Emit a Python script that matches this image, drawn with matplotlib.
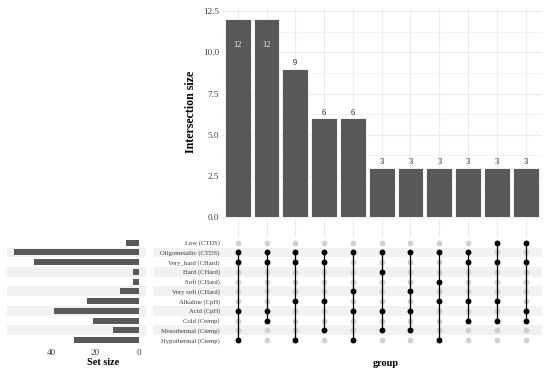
import matplotlib
matplotlib.use("Agg")
import matplotlib.pyplot as plt
from matplotlib.ticker import MultipleLocator
import numpy as np

plt.rcParams['font.family'] = ['Liberation Serif', 'DejaVu Serif']

# ---------------- data ----------------
sets = ["Low (CTDS)", "Oligometallic (CTDS)", "Very_hard (CHard)", "Hard (CHard)",
        "Soft (CHard)", "Very soft (CHard)", "Alkaline (CpH)", "Acid (CpH)",
        "Cold (Ctemp)", "Mesothermal (Ctemp)", "Hypothermal (Ctemp)"]

intersections = [
    ["Oligometallic (CTDS)", "Very_hard (CHard)", "Acid (CpH)", "Hypothermal (Ctemp)"],
    ["Oligometallic (CTDS)", "Very_hard (CHard)", "Acid (CpH)", "Cold (Ctemp)"],
    ["Oligometallic (CTDS)", "Very_hard (CHard)", "Alkaline (CpH)", "Hypothermal (Ctemp)"],
    ["Oligometallic (CTDS)", "Very_hard (CHard)", "Alkaline (CpH)", "Mesothermal (Ctemp)"],
    ["Oligometallic (CTDS)", "Very soft (CHard)", "Acid (CpH)", "Hypothermal (Ctemp)"],
    ["Oligometallic (CTDS)", "Hard (CHard)", "Acid (CpH)", "Mesothermal (Ctemp)"],
    ["Oligometallic (CTDS)", "Very soft (CHard)", "Acid (CpH)", "Mesothermal (Ctemp)"],
    ["Oligometallic (CTDS)", "Soft (CHard)", "Alkaline (CpH)", "Hypothermal (Ctemp)"],
    ["Oligometallic (CTDS)", "Very_hard (CHard)", "Alkaline (CpH)", "Cold (Ctemp)"],
    ["Low (CTDS)", "Very_hard (CHard)", "Alkaline (CpH)", "Cold (Ctemp)"],
    ["Low (CTDS)", "Very_hard (CHard)", "Acid (CpH)", "Cold (Ctemp)"],
]
intersection_sizes = [12, 12, 9, 6, 6, 3, 3, 3, 3, 3, 3]

set_sizes = [sum(s for inter, s in zip(intersections, intersection_sizes) if name in inter)
             for name in sets]

# ---------------- layout (pixels) ----------------
W, H = 550, 373
fig = plt.figure(figsize=(W / 100, H / 100), dpi=100)

def rect(x0, y0, x1, y1):
    return [x0 / W, 1 - y1 / H, (x1 - x0) / W, (y1 - y0) / H]

col0, colstep = 237.7, 28.8
row0, rowstep = 242.7, 9.73
ax_x0, ax_x1 = 222, 542
xl = ((ax_x0 - col0) / colstep, (ax_x1 - col0) / colstep)

m_top, m_bot = row0 - 0.6 * rowstep, row0 + 10.6 * rowstep

# bars axes
zero_px, px_per_unit = 217.3, 16.5
b_top, b_bot = 9.4, m_top
axb = fig.add_axes(rect(ax_x0, b_top, ax_x1, b_bot))
# matrix axes
axm = fig.add_axes(rect(ax_x0, m_top, ax_x1, m_bot))
# set size axes
s0_px, s_ppu = 139.3, 2.19
s_x0, s_x1 = 7, 145.5
axs = fig.add_axes(rect(s_x0, m_top, s_x1, m_bot))

text_col = '#3a3a3a'
grid_col = '#ebebeb'
stripe_col = '#f2f2f2'
bar_col = '#595959'

# ---------------- intersection bars ----------------
x = np.arange(len(intersection_sizes))
axb.bar(x, intersection_sizes, width=0.9, color=bar_col, edgecolor='white', linewidth=0.6, zorder=2)
axb.set_xlim(*xl)
axb.set_ylim((zero_px - b_bot) / px_per_unit, (zero_px - b_top) / px_per_unit)
axb.yaxis.set_major_locator(MultipleLocator(2.5))
axb.yaxis.set_minor_locator(MultipleLocator(1.25))
axb.yaxis.set_major_formatter(matplotlib.ticker.FormatStrFormatter('%.1f'))
axb.set_xticks(x)
axb.set_xticklabels([])
axb.grid(True, which='major', color=grid_col, linewidth=0.8, zorder=0)
axb.grid(True, which='minor', axis='y', color=grid_col, linewidth=0.4, zorder=0)
axb.set_axisbelow(True)
axb.tick_params(axis='both', which='both', length=0, labelsize=6.6, colors=text_col, pad=2)
for sp in axb.spines.values():
    sp.set_visible(False)
axb.set_ylabel("Intersection size", fontsize=8.6, fontweight='bold', color='black')
axb.yaxis.set_label_coords(-0.079, (b_bot - 112) / (b_bot - b_top))

vmax = max(intersection_sizes)
for xi, v in zip(x, intersection_sizes):
    if v == vmax:
        axb.text(xi, v - 1.55, str(v), ha='center', va='center', fontsize=6.0, color='#e8e8e8', zorder=3)
    else:
        axb.text(xi, v + 0.08, str(v), ha='center', va='bottom', fontsize=6.0, color='#1a1a1a', zorder=3)

# ---------------- matrix ----------------
nrow = len(sets)
axm.set_xlim(*xl)
axm.set_ylim(nrow - 0.4, -0.6)
stripe_x0 = (153 - ax_x0) / (ax_x1 - ax_x0)
for r in range(nrow):
    if r % 2 == 1:
        axm.axhspan(r - 0.5, r + 0.5, xmin=stripe_x0, xmax=1, color=stripe_col, lw=0,
                    zorder=0, clip_on=False)
for xi, inter in enumerate(intersections):
    rows_in = [sets.index(s) for s in inter]
    rows_out = [r for r in range(nrow) if r not in rows_in]
    axm.scatter([xi] * len(rows_out), rows_out, s=17, color='#d0d0d0', zorder=2, linewidths=0)
    axm.plot([xi, xi], [min(rows_in), max(rows_in)], color='black', lw=0.9, zorder=3)
    axm.scatter([xi] * len(rows_in), rows_in, s=18, color='black', zorder=4, linewidths=0)
axm.set_yticks(range(nrow))
axm.set_yticklabels(sets)
axm.set_xticks([])
axm.tick_params(axis='y', length=0, labelsize=4.8, colors=text_col, pad=1.5)
for sp in axm.spines.values():
    sp.set_visible(False)
axm.set_xlabel("group", fontsize=7.4, fontweight='bold', color='black')
axm.xaxis.set_label_coords((385.5 - ax_x0) / (ax_x1 - ax_x0), -(363.3 - m_bot) / (m_bot - m_top))
axm.xaxis.label.set_va('center')

# ---------------- set sizes ----------------
axs.set_xlim((s0_px - s_x0) / s_ppu, (s0_px - s_x1) / s_ppu)
axs.set_ylim(nrow - 0.4, -0.6)
for r in range(nrow):
    if r % 2 == 1:
        axs.axhspan(r - 0.5, r + 0.5, color=stripe_col, lw=0, zorder=0)
axs.barh(range(nrow), set_sizes, height=0.62, color=bar_col, zorder=2)
axs.set_xticks([0, 20, 40])
axs.set_yticks([])
axs.tick_params(axis='x', length=0, labelsize=6.6, colors=text_col, pad=2)
for sp in axs.spines.values():
    sp.set_visible(False)
axs.set_xlabel("Set size", fontsize=7.4, fontweight='bold', color='black')
axs.xaxis.set_label_coords((103 - s_x0) / (s_x1 - s_x0), -(362.7 - m_bot) / (m_bot - m_top))
axs.xaxis.label.set_va('center')

fig.savefig("out.png", dpi=100, facecolor='white')
